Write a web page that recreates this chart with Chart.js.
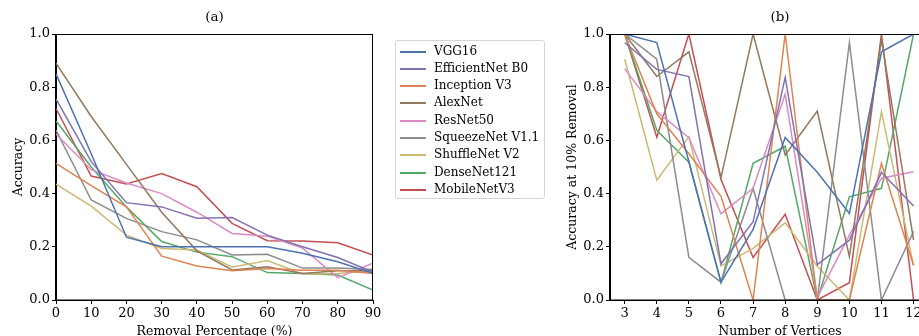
<!DOCTYPE html>
<html>
<head>
<meta charset="utf-8">
<script src="https://cdn.jsdelivr.net/npm/chart.js@4"></script>
<style>
  body { margin: 0; background: #fff; overflow: hidden; }
  #wrap { position: relative; width: 919px; height: 336px; overflow: hidden; background: #fff; }
  canvas { position: absolute; top: 0; }
  #chartA { left: 0; }
  #chartB { left: 540px; }
  #legend {
    position: absolute; left: 395px; top: 40px; width: 148px; height: 157px;
    border: 1px solid #d5d5d5; border-radius: 3px; background: #fff;
    font-family: "DejaVu Serif", serif; font-size: 12px; color: #000;
  }
  .row { position: absolute; left: 0; height: 17px; line-height: 17px; white-space: nowrap; }
  .swatch { position: absolute; left: 4px; top: 8px; width: 26px; height: 2px; }
  .name { position: absolute; left: 38px; top: 0; }
</style>
</head>
<body>
<div id="wrap">
  <canvas id="chartA" width="390" height="336"></canvas>
  <canvas id="chartB" width="420" height="336"></canvas>
  <div id="legend"></div>
</div>
<script>
// x values
const removalPct = [0, 10, 20, 30, 40, 50, 60, 70, 80, 90];
const vertices = [3, 4, 5, 6, 7, 8, 9, 10, 11, 12];

const models = ["VGG16", "EfficientNet B0", "Inception V3", "AlexNet", "ResNet50",
  "SqueezeNet V1.1", "ShuffleNet V2", "DenseNet121", "MobileNetV3"];
const colors = ["#4c72b0", "#8172b3", "#dd8452", "#937860", "#da8bc3",
  "#8c8c8c", "#ccb974", "#55a868", "#c44e52"];

// (a) accuracy vs removal percentage
const vggA = [0.85, 0.55, 0.236, 0.20, 0.20, 0.20, 0.20, 0.176, 0.144, 0.10];
const effA = [0.756, 0.52, 0.366, 0.35, 0.307, 0.31, 0.244, 0.20, 0.16, 0.105];
const incA = [0.514, 0.43, 0.35, 0.165, 0.128, 0.11, 0.118, 0.112, 0.112, 0.10];
const alexA = [0.89, 0.69, 0.51, 0.33, 0.185, 0.113, 0.125, 0.10, 0.11, 0.11];
const resA = [0.624, 0.49, 0.44, 0.40, 0.33, 0.25, 0.24, 0.195, 0.084, 0.138];
const sqzA = [0.639, 0.376, 0.307, 0.257, 0.226, 0.169, 0.172, 0.12, 0.12, 0.115];
const shufA = [0.436, 0.353, 0.244, 0.194, 0.188, 0.123, 0.148, 0.098, 0.10, 0.11];
const denseA = [0.673, 0.50, 0.35, 0.22, 0.18, 0.163, 0.103, 0.10, 0.094, 0.037];
const mobA = [0.72, 0.466, 0.436, 0.475, 0.426, 0.288, 0.223, 0.222, 0.215, 0.169];

// (b) accuracy at 10% removal vs number of vertices
const vggB = [1.0, 0.968, 0.52, 0.067, 0.265, 0.611, 0.48, 0.325, 0.933, 1.0];
const effB = [0.967, 0.867, 0.84, 0.136, 0.294, 0.837, 0.133, 0.225, 0.48, 0.353];
const incB = [1.0, 0.70, 0.55, 0.39, 0.0, 1.0, 0.0, 0.0, 0.514, 0.13];
const alexB = [1.0, 0.84, 0.933, 0.46, 1.0, 0.545, 0.71, 0.163, 0.98, 0.225];
const resB = [0.87, 0.708, 0.61, 0.324, 0.42, 0.774, 0.01, 0.244, 0.458, 0.482];
const sqzB = [1.0, 0.905, 0.16, 0.067, 0.42, 0.0, 0.0, 0.967, 0.0, 0.258];
const shufB = [0.905, 0.45, 0.614, 0.128, 0.194, 0.29, 0.127, 0.0, 0.708, 0.13];
const denseB = [1.0, 0.638, 0.518, 0.065, 0.514, 0.578, 0.0, 0.388, 0.42, 1.0];
const mobB = [1.0, 0.612, 1.0, 0.453, 0.16, 0.322, 0.0, 0.065, 1.0, 0.0];

const seriesA = [vggA, effA, incA, alexA, resA, sqzA, shufA, denseA, mobA];
const seriesB = [vggB, effB, incB, alexB, resB, sqzB, shufB, denseB, mobB];

Chart.defaults.font.family = "'DejaVu Serif', serif";
Chart.defaults.font.size = 13;
Chart.defaults.color = "#000";

// full box round the plot, like matplotlib spines
const frame = {
  id: "frame",
  afterDatasetsDraw(chart) {
    const { ctx, chartArea: a } = chart;
    ctx.save();
    ctx.strokeStyle = "#000";
    ctx.lineWidth = 1;
    ctx.strokeRect(Math.round(a.left) - 0.5, Math.round(a.top) + 0.5,
      Math.round(a.right - a.left), Math.round(a.bottom - a.top) - 0.5);
    ctx.restore();
  },
};

function makeDatasets(xs, series) {
  return series.map((ys, i) => ({
    label: models[i],
    data: xs.map((x, j) => ({ x, y: ys[j] })),
    borderColor: colors[i],
    backgroundColor: colors[i],
    borderWidth: 1.5,
    pointRadius: 0,
    tension: 0,
  }));
}

function makeOptions(o) {
  return {
    responsive: false,
    animation: false,
    devicePixelRatio: 1,
    layout: { padding: { left: 0, right: o.padRight, top: 0, bottom: 0 } },
    plugins: {
      legend: { display: false },
      tooltip: { enabled: false },
      title: {
        display: true, text: o.title, fullSize: false,
        font: { size: 13.5, weight: "normal" },
        padding: { top: 9, bottom: 8.8 },
      },
    },
    scales: {
      x: {
        type: "linear", min: o.xMin, max: o.xMax,
        afterBuildTicks: (s) => { s.ticks = o.xTicks.map((v) => ({ value: v })); },
        afterFit: (s) => { s.height = 36; },
        grid: { drawOnChartArea: false, tickLength: 4, color: "#000" },
        border: { display: true, color: "#000" },
        ticks: { padding: 2, maxRotation: 0, autoSkip: false, font: { size: 13 } },
        title: { display: true, text: o.xTitle, font: { size: 12.5, lineHeight: 1 }, padding: { top: 0, bottom: -2 } },
      },
      y: {
        min: 0, max: 1,
        afterFit: (s) => { s.width = o.yWidth; },
        grid: { drawOnChartArea: false, tickLength: 4, color: "#000" },
        border: { display: true, color: "#000" },
        ticks: { stepSize: 0.2, padding: 2, font: { size: 13 }, callback: (v) => v.toFixed(1) },
        title: { display: true, text: o.yTitle, font: { size: 12.5, lineHeight: 1 }, padding: { top: o.yTitlePad, bottom: 0 } },
      },
    },
  };
}

new Chart(document.getElementById("chartA"), {
  type: "line",
  data: { datasets: makeDatasets(removalPct, seriesA) },
  options: makeOptions({
    title: "(a)", xMin: 0, xMax: 90, xTicks: removalPct,
    xTitle: "Removal Percentage (%)", yTitle: "Accuracy",
    yWidth: 56, yTitlePad: 12, padRight: 17,
  }),
  plugins: [frame],
});

new Chart(document.getElementById("chartB"), {
  type: "line",
  data: { datasets: makeDatasets(vertices, seriesB) },
  options: makeOptions({
    title: "(b)", xMin: 2.542, xMax: 13.135, xTicks: vertices,
    xTitle: "Number of Vertices", yTitle: "Accuracy at 10% Removal",
    yWidth: 70, yTitlePad: 26, padRight: 10,
  }),
  plugins: [frame],
});

// legend box between the two plots
const legend = document.getElementById("legend");
models.forEach((name, i) => {
  const row = document.createElement("div");
  row.className = "row";
  row.style.top = (1.5 + i * 17.33) + "px";
  row.innerHTML = '<span class="swatch" style="background:' + colors[i] + '"></span><span class="name"></span>';
  row.querySelector(".name").textContent = name;
  legend.appendChild(row);
});
</script>
</body>
</html>
